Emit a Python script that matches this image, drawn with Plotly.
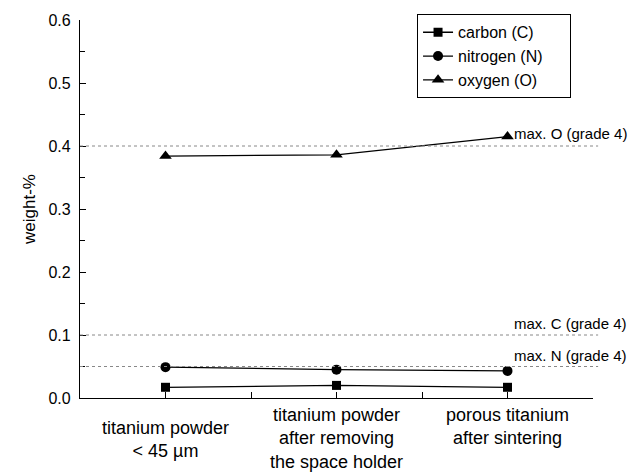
import plotly.graph_objects as go

categories = ["titanium powder<br>< 45 µm",
              "titanium powder<br>after removing<br>the space holder",
              "porous titanium<br>after sintering"]
carbon = [0.017, 0.020, 0.017]
nitrogen = [0.049, 0.045, 0.043]
oxygen = [0.384, 0.386, 0.415]
series_names = ["carbon (C)", "nitrogen (N)", "oxygen (O)"]
limit_values = [0.4, 0.1, 0.05]
limit_labels = ["max. O (grade 4)", "max. C (grade 4)", "max. N (grade 4)"]

FONT = "Liberation Sans, Arial, sans-serif"
xpos = list(range(len(categories)))
PAD = "\u00a0" * 5

fig = go.Figure()
series = [(series_names[0], carbon, "square", 9),
          (series_names[1], nitrogen, "circle", 10),
          (series_names[2], oxygen, "triangle-up", 11)]
for name, vals, sym, size in series:
    fig.add_trace(go.Scatter(x=xpos, y=vals, mode="lines+markers", name=name + PAD,
                             line=dict(color="black", width=1.3),
                             marker=dict(symbol=sym, size=size, color="black")))

for v, lab in zip(limit_values, limit_labels):
    fig.add_shape(type="line", xref="paper", x0=0, x1=1.01, yref="y", y0=v, y1=v,
                  line=dict(color="#888888", width=1, dash="dot"))
    fig.add_annotation(xref="paper", x=1.07, yref="y", y=v, text=lab, showarrow=False,
                       xanchor="right", yanchor="bottom", yshift=1 if v != 0.4 else 2,
                       font=dict(family=FONT, size=15, color="black"))

label_yshift = [-13, 0, 0]
for xi, (c, ys) in enumerate(zip(categories, label_yshift)):
    fig.add_annotation(x=xi, xref="x", yref="paper", y=0, yanchor="top", yshift=-5 + ys,
                       text=c, showarrow=False, align="center",
                       font=dict(family=FONT, size=18, color="black"))

fig.update_layout(
    width=641, height=475,
    margin=dict(l=80, r=48, t=20, b=77),
    plot_bgcolor="white", paper_bgcolor="white",
    font=dict(family=FONT, size=14, color="black"),
    showlegend=True,
    legend=dict(x=0.657, y=1.015, xanchor="left", yanchor="top",
                bordercolor="black", borderwidth=1, bgcolor="white",
                font=dict(family=FONT, size=16), tracegroupgap=0),
    xaxis=dict(range=[-0.5, 2.5], tickmode="linear", tick0=-0.5, dtick=0.5,
               showticklabels=False, ticks="inside", ticklen=6, tickcolor="black",
               showline=True, linecolor="black", linewidth=1.3, showgrid=False,
               zeroline=False),
    yaxis=dict(range=[0, 0.6], tickmode="linear", tick0=0, dtick=0.1,
               tickformat=".1f", ticks="inside", ticklen=6, tickcolor="black",
               minor=dict(ticks="inside", ticklen=5, dtick=0.05, tickcolor="black"),
               ticklabelstandoff=5,
               showline=True, linecolor="black", linewidth=1.3, showgrid=False,
               zeroline=False, tickfont=dict(size=16),
               title=dict(text="weight-%", font=dict(size=17), standoff=8)),
)

fig.write_html("out.html")
